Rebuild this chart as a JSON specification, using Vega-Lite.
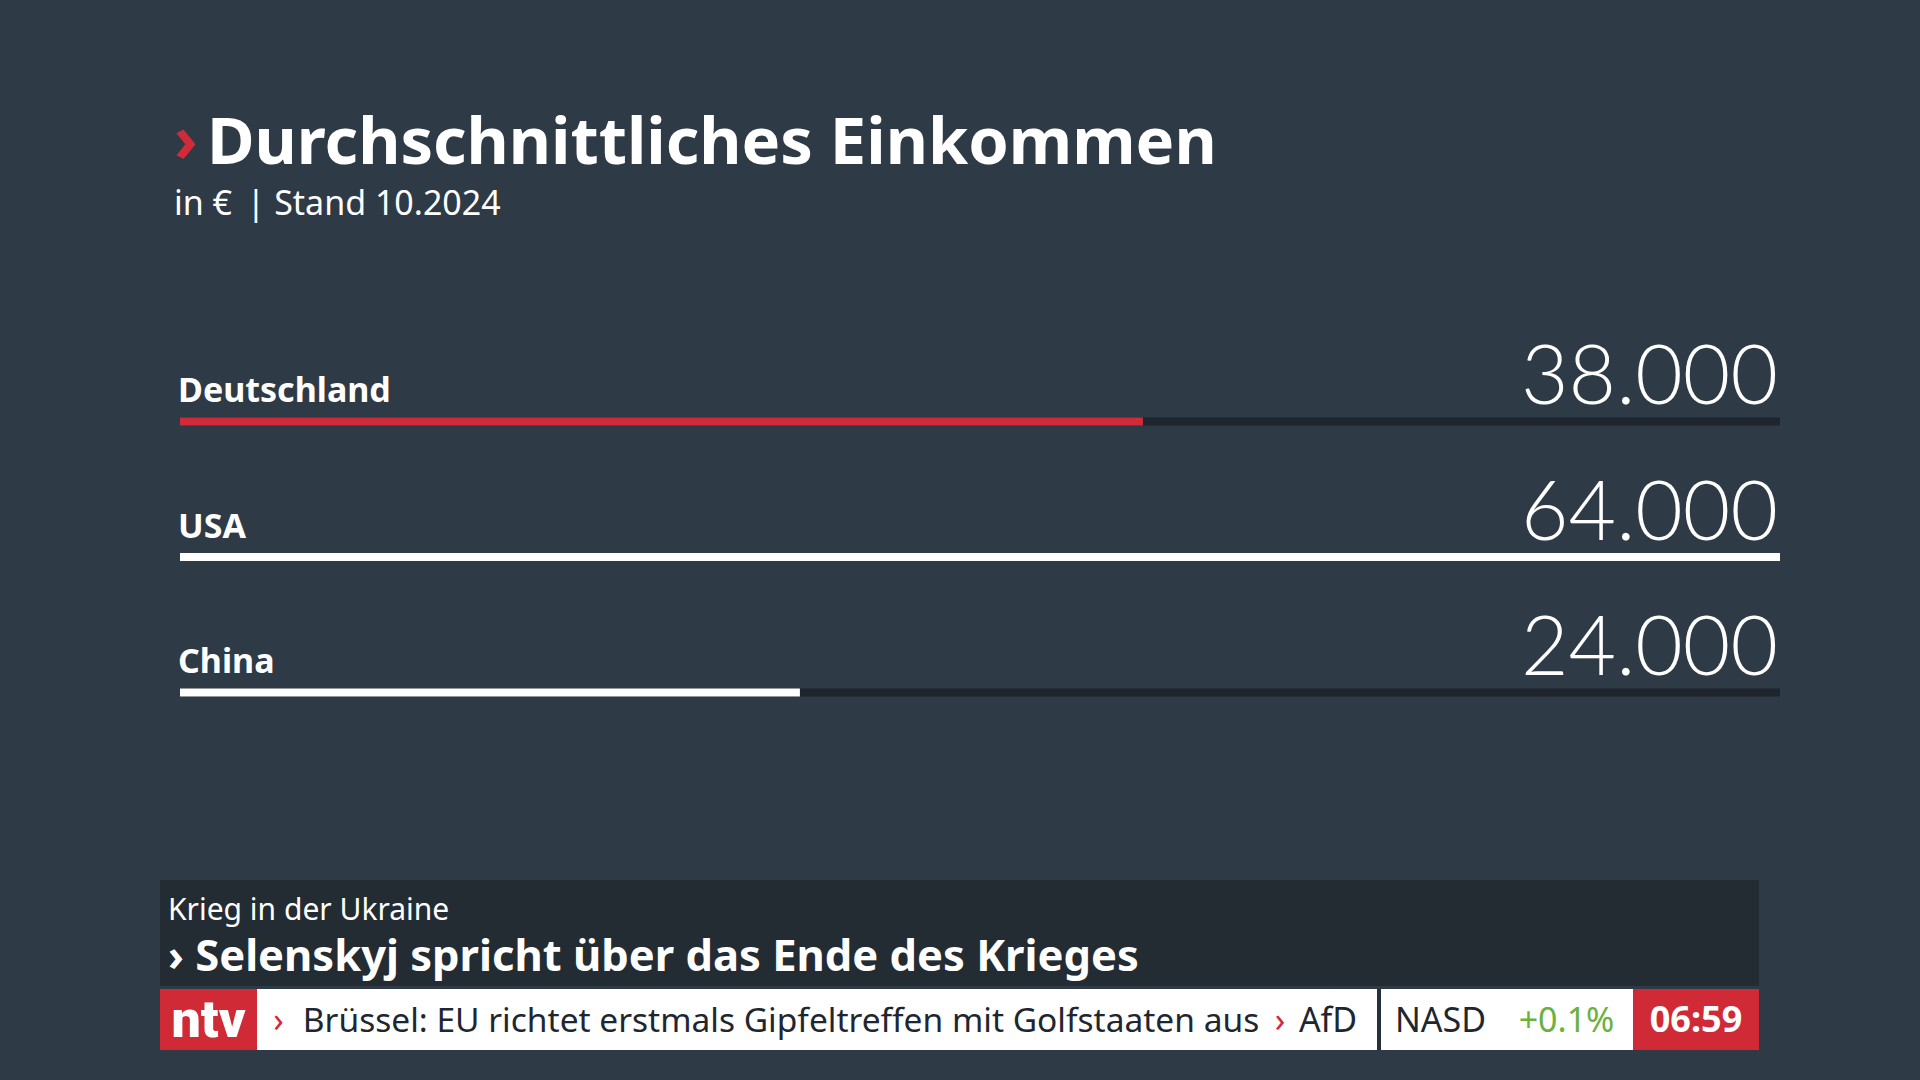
{
  "$schema": "https://vega.github.io/schema/vega-lite/v6.json",
  "background": "#2e3a45",
  "padding": {"left": 160, "top": 110, "right": 140, "bottom": 30},
  "config": {
    "font": "Noto Sans",
    "view": {"stroke": null},
    "locale": {"number": {"decimal": ",", "thousands": ".", "grouping": [3], "currency": ["", " €"]}}
  },
  "title": {
    "text": "›",
    "color": "#d12a38",
    "fontSize": 65,
    "fontWeight": "bold",
    "font": "Noto Sans",
    "anchor": "start",
    "frame": "group",
    "dx": 14,
    "dy": 111,
    "offset": 0,
    "subtitle": "in € \u2009| Stand 10.2024",
    "subtitleColor": "#ffffff",
    "subtitleFontSize": 34,
    "subtitleFont": "Noto Sans",
    "subtitleFontWeight": "normal",
    "subtitlePadding": 12
  },
  "spacing": 3,
  "vconcat": [
    {
      "width": 1620,
      "height": 542,
      "title": {
        "text": "Durchschnittliches Einkommen",
        "anchor": "start",
        "frame": "group",
        "dx": 47,
        "offset": 157,
        "fontSize": 65,
        "fontWeight": "bold",
        "color": "#ffffff",
        "font": "Noto Sans"
      },
      "data": {"values": [
        {"country": "Deutschland", "value": 38000},
        {"country": "USA", "value": 64000},
        {"country": "China", "value": 24000}
      ]},
      "encoding": {
        "y": {
          "field": "country",
          "type": "nominal",
          "sort": null,
          "axis": null,
          "scale": {"type": "point", "domain": ["Deutschland", "USA", "China"], "padding": 1, "align": 0.319}
        }
      },
      "layer": [
        {
          "mark": {"type": "bar", "height": 8, "color": "#1e252c"},
          "encoding": {
            "x": {"datum": -1300, "type": "quantitative", "axis": null, "scale": {"domain": [-1300, 64000], "range": [20, 1620], "nice": false, "zero": false}},
            "x2": {"datum": 64000}
          }
        },
        {
          "mark": {"type": "bar", "height": 8},
          "encoding": {
            "x": {"field": "value", "type": "quantitative", "axis": null},
            "x2": {"datum": -1300},
            "color": {"condition": {"test": "datum.country === 'Deutschland'", "value": "#d12a38"}, "value": "#ffffff"}
          }
        },
        {
          "mark": {"type": "text", "align": "left", "baseline": "alphabetic", "dy": -19, "dx": -2, "fontSize": 34, "fontWeight": "bold", "color": "#ffffff"},
          "encoding": {
            "x": {"datum": -1300, "type": "quantitative"},
            "text": {"field": "country"}
          }
        },
        {
          "mark": {"type": "text", "align": "right", "baseline": "alphabetic", "dy": -17, "dx": -2, "fontSize": 82, "font": "Lato", "fontWeight": 300, "color": "#ffffff"},
          "encoding": {
            "x": {"datum": 64000, "type": "quantitative"},
            "text": {"field": "value", "type": "quantitative", "format": ",.0f"}
          }
        }
      ]
    },
    {
      "width": 1599,
      "height": 106,
      "data": {"values": [{"topic": "Krieg in der Ukraine"}]},
      "mark": {"type": "rect", "color": "#232b33"},
      "encoding": {},
      "title": {
        "text": "Krieg in der Ukraine",
        "subtitle": "› Selenskyj spricht über das Ende des Krieges",
        "anchor": "start",
        "frame": "group",
        "dx": 8,
        "dy": 99,
        "offset": 0,
        "font": "Noto Sans",
        "fontSize": 30,
        "fontWeight": "normal",
        "color": "#ffffff",
        "subtitleFont": "Noto Sans",
        "subtitleFontSize": 43.5,
        "subtitleFontWeight": "bold",
        "subtitleColor": "#ffffff",
        "subtitlePadding": 11
      }
    },
    {
      "spacing": 0,
      "bounds": "flush",
      "hconcat": [
        {
          "width": 97, "height": 61,
          "data": {"values": [{"label": "ntv"}]},
          "layer": [
            {"mark": {"type": "rect", "color": "#cf2a36"}, "encoding": {}},
            {"mark": {"type": "text", "color": "#ffffff", "font": "Roboto", "fontWeight": 900, "fontSize": 52, "baseline": "alphabetic", "dy": 17}, "encoding": {"text": {"field": "label"}}}
          ]
        },
        {
          "width": 43, "height": 61,
          "data": {"values": [{"label": "›"}]},
          "layer": [
            {"mark": {"type": "rect", "color": "#ffffff"}, "encoding": {}},
            {"mark": {"type": "text", "color": "#cf2a36", "fontSize": 34, "baseline": "alphabetic", "dy": 12}, "encoding": {"text": {"field": "label"}}}
          ]
        },
        {
          "width": 962, "height": 61,
          "data": {"values": [{"label": "Brüssel: EU richtet erstmals Gipfeltreffen mit Golfstaaten aus"}]},
          "layer": [
            {"mark": {"type": "rect", "color": "#ffffff"}, "encoding": {}},
            {"mark": {"type": "text", "color": "#1e2730", "fontSize": 33.5, "baseline": "alphabetic", "dy": 12}, "encoding": {"text": {"field": "label"}}}
          ]
        },
        {
          "width": 36, "height": 61,
          "data": {"values": [{"label": "›"}]},
          "layer": [
            {"mark": {"type": "rect", "color": "#ffffff"}, "encoding": {}},
            {"mark": {"type": "text", "color": "#cf2a36", "fontSize": 34, "baseline": "alphabetic", "dy": 12}, "encoding": {"text": {"field": "label"}}}
          ]
        },
        {
          "width": 60, "height": 61,
          "data": {"values": [{"label": "AfD"}]},
          "layer": [
            {"mark": {"type": "rect", "color": "#ffffff"}, "encoding": {}},
            {"mark": {"type": "text", "color": "#1e2730", "fontSize": 34, "baseline": "alphabetic", "dy": 12}, "encoding": {"text": {"field": "label"}}}
          ]
        },
        {
          "width": 19, "height": 61,
          "data": {"values": [{"label": ""}]},
          "mark": {"type": "rect", "color": "#ffffff"},
          "encoding": {}
        },
        {
          "width": 4, "height": 61,
          "data": {"values": [{"label": ""}]},
          "mark": {"type": "rect", "color": "#27313a"},
          "encoding": {}
        },
        {
          "width": 119, "height": 61,
          "data": {"values": [{"label": "NASD"}]},
          "layer": [
            {"mark": {"type": "rect", "color": "#ffffff"}, "encoding": {}},
            {"mark": {"type": "text", "color": "#1e2730", "fontSize": 34, "baseline": "alphabetic", "dy": 12}, "encoding": {"text": {"field": "label"}}}
          ]
        },
        {
          "width": 133, "height": 61,
          "data": {"values": [{"label": "+0.1%"}]},
          "layer": [
            {"mark": {"type": "rect", "color": "#ffffff"}, "encoding": {}},
            {"mark": {"type": "text", "color": "#6ab23e", "fontSize": 34, "baseline": "alphabetic", "dy": 12}, "encoding": {"text": {"field": "label"}}}
          ]
        },
        {
          "width": 126, "height": 61,
          "data": {"values": [{"label": "06:59"}]},
          "layer": [
            {"mark": {"type": "rect", "color": "#cf2a36"}, "encoding": {}},
            {"mark": {"type": "text", "color": "#ffffff", "fontSize": 36, "fontWeight": "bold", "baseline": "alphabetic", "dy": 12}, "encoding": {"text": {"field": "label"}}}
          ]
        }
      ]
    }
  ]
}
